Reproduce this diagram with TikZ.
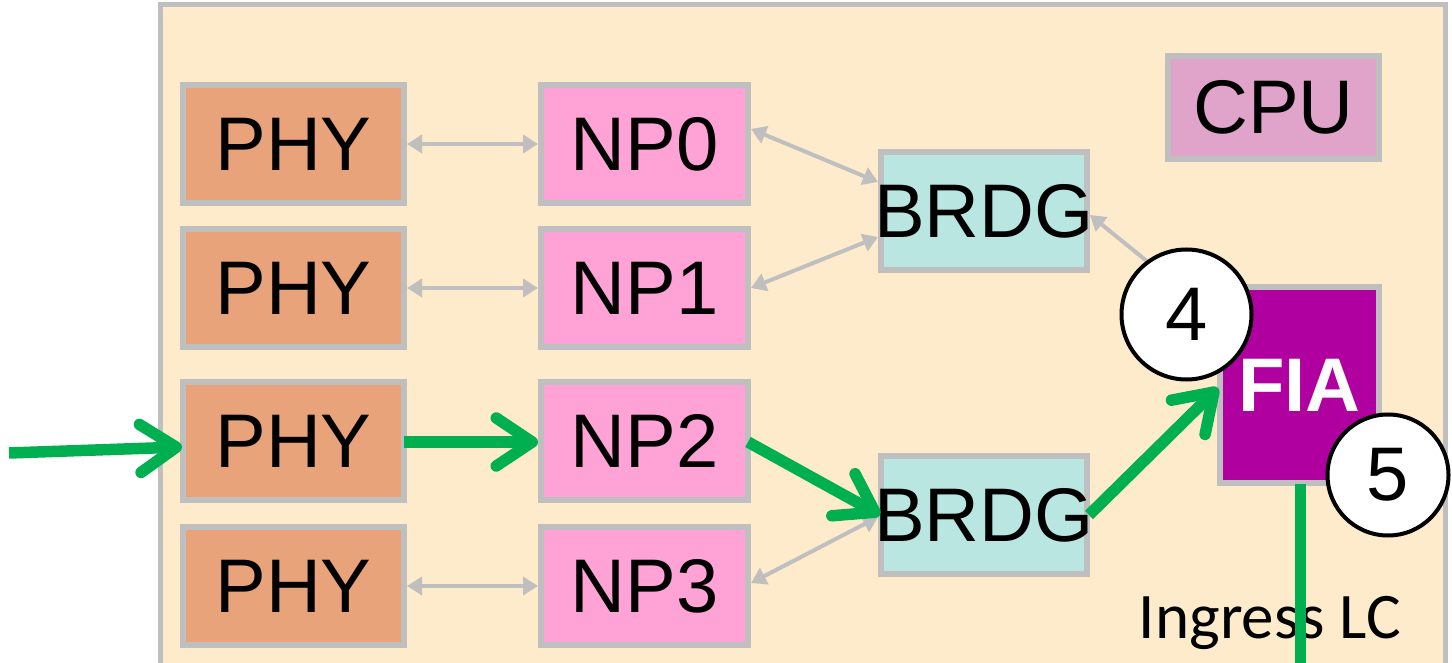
\documentclass[tikz,border=0pt]{standalone}
\usepackage{fontspec}
\setmainfont{Liberation Sans}
\newfontfamily\calibrifont{Carlito}
\usetikzlibrary{arrows.meta,calc}
\definecolor{beige}{HTML}{FEEBCB}
\definecolor{grayb}{HTML}{BFBFBF}
\definecolor{phyc}{HTML}{E9A37B}
\definecolor{npc}{HTML}{FFA3D7}
\definecolor{brdgc}{HTML}{B9E6E0}
\definecolor{cpuc}{HTML}{E0A4CB}
\definecolor{fiac}{HTML}{B0009F}
\definecolor{greenc}{HTML}{00B050}
\tikzset{
  box/.style={draw=grayb, line width=3pt, inner sep=0pt, font=\fontsize{38}{38}\selectfont},
  phybox/.style={box, fill=phyc, minimum width=110.5pt, minimum height=59pt},
  npbox/.style={box, fill=npc, minimum width=103.5pt, minimum height=59pt},
  brdgbox/.style={box, fill=brdgc, minimum width=103pt, minimum height=59pt},
  cpubox/.style={box, fill=cpuc, minimum width=105.5pt, minimum height=51.5pt},
  fiabox/.style={box, fill=fiac, text=white, font=\fontsize{38}{38}\selectfont\bfseries, minimum width=79.5pt, minimum height=98pt},
  numcircle/.style={circle, draw=black, line width=2pt, fill=white, inner sep=0pt, font=\fontsize{38}{38}\selectfont},
  grayarrow/.style={draw=grayb, line width=2pt, {Triangle[length=7.5pt,width=9pt]}-{Triangle[length=7.5pt,width=9pt]}},
  grayone/.style={draw=grayb, line width=2pt, -{Triangle[length=7.5pt,width=9pt]}},
  greenarrow/.style={draw=greenc, line width=5.75pt, -{Straight Barb[length=18pt,width=24pt,round]}},
  greenline/.style={draw=greenc, line width=5.5pt}
}
\begin{document}
\begin{tikzpicture}[x=0.5pt,y=-0.5pt]
\useasboundingbox (0,0) rectangle (1452,663);
\fill[white] (0,0) rectangle (1452,663);
\clip (0,0) rectangle (1452,663);
% board
\draw[draw=grayb, fill=beige, line width=2.5pt] (160.5,4.5) rectangle (1445.5,720);
% boxes
\node[phybox] (phy1) at (293.5,144) {PHY};
\node[phybox] (phy2) at (293.5,288) {PHY};
\node[phybox] (phy3) at (293.5,441) {PHY};
\node[phybox] (phy4) at (293.5,586) {PHY};
\node[npbox] (np0) at (644.5,144) {NP0};
\node[npbox] (np1) at (644.5,288) {NP1};
\node[npbox] (np2) at (644.5,441) {NP2};
\node[npbox] (np3) at (644.5,586) {NP3};
\node[brdgbox] (br1) at (984,211) {\makebox[0pt][c]{BRDG}};
\node[brdgbox] (br2) at (984,515) {\makebox[0pt][c]{BRDG}};
\node[cpubox] (cpu) at (1273.5,107.5) {CPU};
\node[fiabox] (fia) at (1299.5,385) {FIA};
% gray connectors
\draw[grayarrow] (phy1.east) -- (np0.west);
\draw[grayarrow] (phy2.east) -- (np1.west);
\draw[grayarrow] (phy4.east) -- (np3.west);
\draw[grayarrow] ($(np0.east)+(0,-15)$) -- ($(br1.west)+(0,-29)$);
\draw[grayarrow] (np1.east) -- ($(br1.west)+(0,26)$);
\draw[grayarrow] ($(np3.east)+(0,-3)$) -- ($(br2.west)+(0,2)$);
\draw[grayone] ($(fia.west)+(0,-67)$) -- ($(br1.east)+(0,4)$);
% green path
\coordinate (in) at (9,453);
\coordinate (out) at (1300.5,680);
\draw[greenarrow] (in) -- ($(phy3.west)+(2,6)$);
\draw[greenarrow] ($(phy3.east)+(-3,1)$) -- ($(np2.west)+(0,1)$);
\draw[greenarrow] ($(np2.east)+(-3,1)$) -- ($(br2.west)+(2,0)$);
\draw[greenarrow] ($(br2.east)+(-1,0)$) -- ($(fia.west)+(1,3)$);
% label
\node[font=\calibrifont\fontsize{32.5}{32.5}\selectfont, anchor=base, inner sep=0pt] (lc) at (1270,638) {Ingress LC};
\draw[greenline] ($(fia.south)+(1,-2)$) -- (out);
% numbers
\node[numcircle, minimum size=65pt] (c4) at (1186.5,314.5) {4};
\node[numcircle, minimum size=60.5pt] (c5) at (1388,475) {5};
\end{tikzpicture}
\end{document}
